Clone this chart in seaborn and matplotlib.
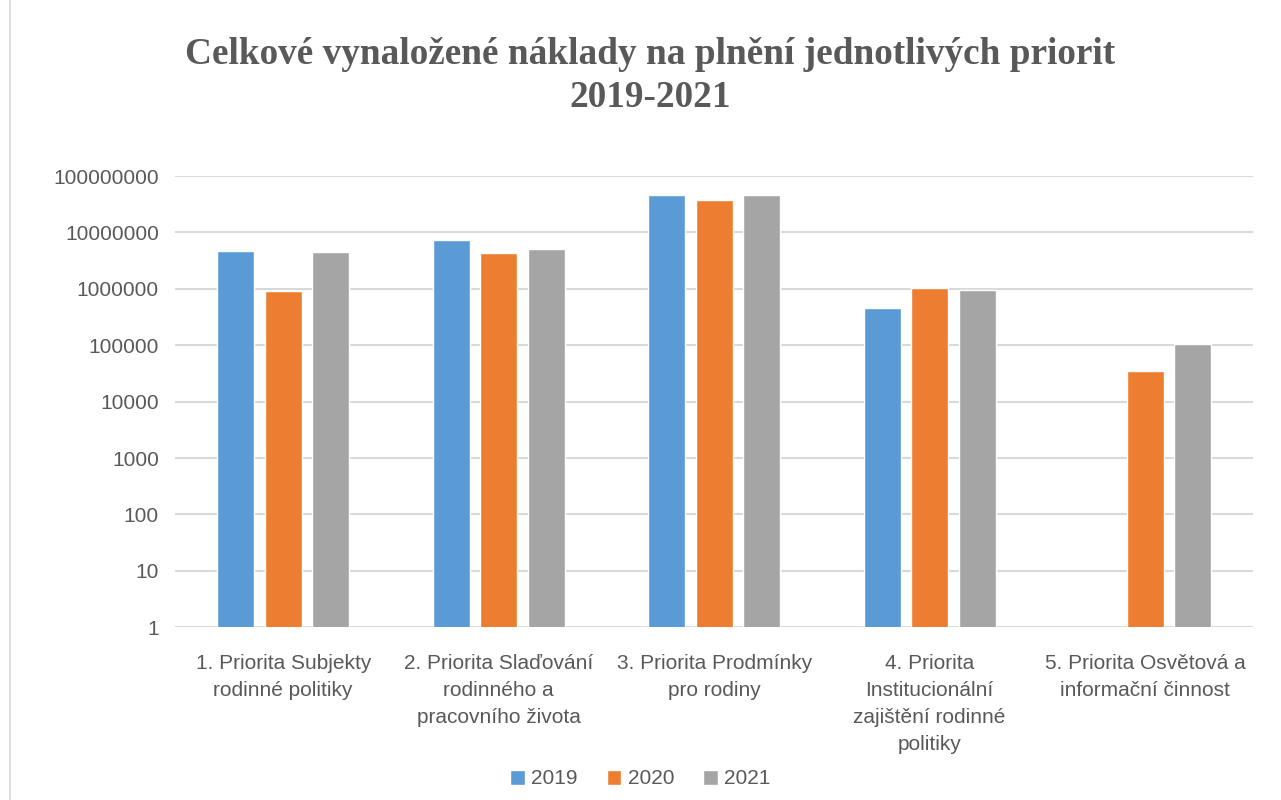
import numpy as np
import pandas as pd
import matplotlib
matplotlib.use('Agg')
import matplotlib.pyplot as plt
import seaborn as sns
from matplotlib.ticker import FixedLocator, FuncFormatter, NullLocator
from matplotlib.lines import Line2D

# Data
categories = [
    "1. Priorita Subjekty\nrodinné politiky",
    "2. Priorita Slaďování\nrodinného a\npracovního života",
    "3. Priorita Prodmínky\npro rodiny",
    "4. Priorita\nInstitucionální\nzajištění rodinné\npolitiky",
    "5. Priorita Osvětová a\ninformační činnost",
]
years = ["2019", "2020", "2021"]
values_2019 = [4.6e6, 7.3e6, 4.6e7, 4.5e5, np.nan]
values_2020 = [9.1e5, 4.4e6, 3.7e7, 1.03e6, 3.5e4]
values_2021 = [4.5e6, 5.0e6, 4.6e7, 9.5e5, 1.05e5]
y_ticks = [1, 10, 100, 1000, 10000, 100000, 1000000, 10000000, 100000000]
colors = ["#5B9BD5", "#ED7D31", "#A5A5A5"]

df = pd.DataFrame({
    "Priorita": categories * 3,
    "Rok": [y for y in years for _ in categories],
    "Naklady": values_2019 + values_2020 + values_2021,
})

sns.set_style('white')
plt.rcParams['font.family'] = ['Liberation Sans', 'DejaVu Sans']

fig = plt.figure(figsize=(12.81, 8), dpi=100)
ax = fig.add_axes([0.137, 0.216, 0.841, 0.564])

sns.barplot(data=df, x="Priorita", y="Naklady", hue="Rok", hue_order=years,
            order=categories, palette=colors, width=0.66, gap=0.22,
            errorbar=None, saturation=1, ax=ax, zorder=3)

ax.set_yscale('log')
ax.set_ylim(1, 1e8)
ax.yaxis.set_major_locator(FixedLocator(y_ticks))
ax.yaxis.set_minor_locator(NullLocator())
ax.yaxis.set_major_formatter(FuncFormatter(lambda v, p: f"{int(round(v))}"))
ax.grid(axis='y', color='#d9d9d9', linewidth=1.5, zorder=0)
ax.set_axisbelow(True)
for s in ax.spines.values():
    s.set_visible(False)
ax.tick_params(axis='both', length=0, labelsize=15, labelcolor='#595959')
ax.tick_params(axis='y', pad=12)
ax.tick_params(axis='x', pad=19)
for lbl in ax.get_xticklabels():
    lbl.set_linespacing(1.55)
ax.set_xlabel('')
ax.set_ylabel('')

# Legend at bottom
handles, labels = ax.get_legend_handles_labels()
ax.legend(handles, labels, loc='center', bbox_to_anchor=(0.5, 1 - 779 / 800),
          bbox_transform=fig.transFigure, ncol=3, frameon=False, fontsize=15,
          handlelength=0.7, handleheight=0.7, handletextpad=0.3, columnspacing=1.4,
          labelcolor='#595959')

fig.text(650 / 1281, 1 - 64 / 800, "Celkové vynaložené náklady na plnění jednotlivých priorit",
         ha='center', va='baseline', fontsize=26.8, fontweight='bold',
         family='Liberation Serif', color='#595959')
fig.text(650 / 1281, 1 - 107 / 800, "2019-2021", ha='center', va='baseline', fontsize=26.8,
         fontweight='bold', family='Liberation Serif', color='#595959')

# chart-area border (left edge visible in the crop)
fig.lines.append(Line2D([10 / 1281, 10 / 1281], [0, 1], transform=fig.transFigure,
                        color='#d9d9d9', linewidth=1.2))

fig.savefig('out.png', dpi=100, facecolor='white')
